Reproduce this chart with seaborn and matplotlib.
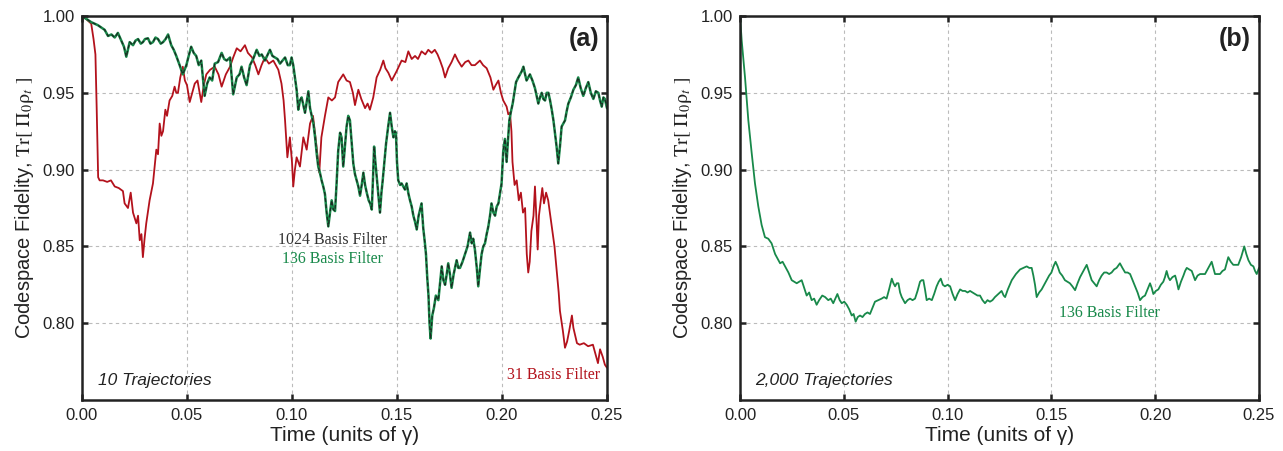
import numpy as np
import pandas as pd
import matplotlib
matplotlib.use("Agg")
import matplotlib.pyplot as plt
import seaborn as sns

# ---------------- data ----------------
red_t = [0.000, 0.002, 0.0044, 0.0055, 0.0064, 0.0070, 0.0077, 0.0084, 0.0100, 0.0120,
         0.0138, 0.0156, 0.0175, 0.0195, 0.0203, 0.0219, 0.0232, 0.0243, 0.0259, 0.0267,
         0.0275, 0.0283, 0.0290, 0.0298, 0.0306, 0.0322, 0.0338, 0.0354, 0.0362, 0.0370,
         0.0378, 0.0386, 0.0397, 0.0405, 0.0417, 0.0430, 0.0441, 0.0449, 0.0457, 0.0468,
         0.0480, 0.0490, 0.0500, 0.0513, 0.0525, 0.0537, 0.0550, 0.0560, 0.0568, 0.0580,
         0.0592, 0.0610, 0.0632, 0.0650, 0.0665, 0.0685, 0.0705, 0.0720, 0.0737, 0.0755,
         0.0776, 0.0790, 0.0810, 0.0825, 0.0840, 0.0855, 0.0871, 0.0890, 0.0911, 0.0935,
         0.0950, 0.0960, 0.0967, 0.0978, 0.0990, 0.1000, 0.1006, 0.1014, 0.1022, 0.1038,
         0.1054, 0.1070, 0.1086, 0.1100, 0.1117, 0.1130, 0.1140, 0.1157, 0.1173, 0.1190,
         0.1205, 0.1220, 0.1244, 0.1260, 0.1276, 0.1290, 0.1300, 0.1316, 0.1330, 0.1348,
         0.1360, 0.1371, 0.1387, 0.1403, 0.1420, 0.1435, 0.1445, 0.1459, 0.1475, 0.1498,
         0.1522, 0.1540, 0.1554, 0.1570, 0.1586, 0.1600, 0.1617, 0.1635, 0.1649, 0.1665,
         0.1680, 0.1693, 0.1705, 0.1718, 0.1729, 0.1744, 0.1760, 0.1776, 0.1790, 0.1808,
         0.1825, 0.1840, 0.1855, 0.1871, 0.1895, 0.1910, 0.1927, 0.1945, 0.1959, 0.1970,
         0.1983, 0.1995, 0.2006, 0.2022, 0.2030, 0.2038, 0.2045, 0.2050, 0.2060, 0.2070,
         0.2080, 0.2090, 0.2100, 0.2110, 0.2118, 0.2125, 0.2132, 0.2140, 0.2150, 0.2157,
         0.2165, 0.2170, 0.2176, 0.2185, 0.2192, 0.2200, 0.2210, 0.2220, 0.2230, 0.2240,
         0.2250, 0.2260, 0.2270, 0.2276, 0.2290, 0.2300, 0.2310, 0.2320, 0.2333, 0.2340,
         0.2357, 0.2370, 0.2390, 0.2410, 0.2433, 0.2445, 0.2457, 0.2467, 0.2480, 0.2490,
         0.2500]
red_v = [1.000, 0.998, 0.995, 0.985, 0.975, 0.940, 0.895, 0.893, 0.893, 0.892,
         0.893, 0.889, 0.888, 0.886, 0.878, 0.875, 0.885, 0.872, 0.865, 0.870,
         0.854, 0.858, 0.843, 0.855, 0.865, 0.880, 0.891, 0.913, 0.910, 0.930,
         0.922, 0.925, 0.939, 0.935, 0.945, 0.948, 0.954, 0.950, 0.950, 0.960,
         0.967, 0.958, 0.955, 0.944, 0.950, 0.956, 0.958, 0.950, 0.944, 0.955,
         0.962, 0.965, 0.967, 0.962, 0.954, 0.962, 0.967, 0.973, 0.979, 0.977,
         0.981, 0.976, 0.973, 0.968, 0.962, 0.968, 0.973, 0.969, 0.971, 0.965,
         0.956, 0.945, 0.932, 0.908, 0.921, 0.905, 0.889, 0.900, 0.908, 0.902,
         0.921, 0.913, 0.930, 0.935, 0.915, 0.898, 0.921, 0.935, 0.947, 0.945,
         0.947, 0.957, 0.962, 0.958, 0.957, 0.950, 0.942, 0.952, 0.946, 0.940,
         0.943, 0.939, 0.947, 0.960, 0.965, 0.971, 0.966, 0.963, 0.958, 0.964,
         0.971, 0.970, 0.977, 0.972, 0.974, 0.972, 0.977, 0.975, 0.978, 0.976,
         0.978, 0.975, 0.971, 0.966, 0.960, 0.966, 0.970, 0.975, 0.971, 0.967,
         0.970, 0.971, 0.968, 0.968, 0.971, 0.968, 0.966, 0.960, 0.952, 0.955,
         0.958, 0.950, 0.945, 0.941, 0.936, 0.937, 0.925, 0.905, 0.890, 0.893,
         0.880, 0.885, 0.872, 0.875, 0.845, 0.833, 0.840, 0.860, 0.870, 0.889,
         0.865, 0.848, 0.870, 0.880, 0.888, 0.878, 0.885, 0.880, 0.870, 0.860,
         0.850, 0.835, 0.820, 0.808, 0.795, 0.784, 0.788, 0.795, 0.805, 0.797,
         0.787, 0.786, 0.787, 0.785, 0.786, 0.780, 0.774, 0.783, 0.778, 0.773,
         0.771]

green_t = [0.0000, 0.0044, 0.0076, 0.0108, 0.0124, 0.0140, 0.0156, 0.0171, 0.0187, 0.0200,
           0.0211, 0.0227, 0.0243, 0.0255, 0.0267, 0.0280, 0.0290, 0.0300, 0.0314, 0.0326,
           0.0338, 0.0350, 0.0362, 0.0375, 0.0386, 0.0398, 0.0410, 0.0425, 0.0437, 0.0449,
           0.0465, 0.0480, 0.0497, 0.0510, 0.0520, 0.0532, 0.0544, 0.0556, 0.0568, 0.0584,
           0.0596, 0.0608, 0.0620, 0.0632, 0.0648, 0.0665, 0.0677, 0.0689, 0.0705, 0.0712,
           0.0720, 0.0737, 0.0750, 0.0760, 0.0772, 0.0784, 0.0800, 0.0815, 0.0832, 0.0845,
           0.0856, 0.0871, 0.0885, 0.0895, 0.0907, 0.0919, 0.0931, 0.0943, 0.0955, 0.0967,
           0.0980, 0.0990, 0.0998, 0.1006, 0.1014, 0.1022, 0.1030, 0.1038, 0.1046, 0.1054,
           0.1062, 0.1070, 0.1078, 0.1086, 0.1094, 0.1102, 0.1110, 0.1118, 0.1125, 0.1133,
           0.1141, 0.1149, 0.1157, 0.1165, 0.1173, 0.1181, 0.1189, 0.1197, 0.1205, 0.1212,
           0.1220, 0.1229, 0.1236, 0.1244, 0.1252, 0.1260, 0.1268, 0.1276, 0.1284, 0.1292,
           0.1300, 0.1308, 0.1316, 0.1324, 0.1332, 0.1340, 0.1348, 0.1356, 0.1365, 0.1372,
           0.1380, 0.1386, 0.1391, 0.1397, 0.1403, 0.1411, 0.1419, 0.1426, 0.1432, 0.1440,
           0.1448, 0.1458, 0.1467, 0.1475, 0.1483, 0.1490, 0.1495, 0.1500, 0.1506, 0.1515,
           0.1522, 0.1530, 0.1538, 0.1546, 0.1555, 0.1562, 0.1570, 0.1578, 0.1586, 0.1594,
           0.1603, 0.1610, 0.1617, 0.1625, 0.1633, 0.1638, 0.1644, 0.1650, 0.1655, 0.1660,
           0.1668, 0.1676, 0.1685, 0.1697, 0.1705, 0.1713, 0.1721, 0.1729, 0.1737, 0.1744,
           0.1752, 0.1760, 0.1770, 0.1784, 0.1792, 0.1800, 0.1812, 0.1824, 0.1836, 0.1848,
           0.1856, 0.1863, 0.1871, 0.1880, 0.1887, 0.1895, 0.1903, 0.1911, 0.1919, 0.1927,
           0.1935, 0.1943, 0.1950, 0.1959, 0.1967, 0.1975, 0.1983, 0.1991, 0.1998, 0.2006,
           0.2014, 0.2022, 0.2028, 0.2035, 0.2043, 0.2051, 0.2059, 0.2067, 0.2078, 0.2086,
           0.2094, 0.2102, 0.2110, 0.2117, 0.2125, 0.2133, 0.2145, 0.2157, 0.2165, 0.2173,
           0.2181, 0.2189, 0.2197, 0.2205, 0.2213, 0.2221, 0.2229, 0.2237, 0.2245, 0.2252,
           0.2260, 0.2268, 0.2276, 0.2284, 0.2292, 0.2300, 0.2308, 0.2316, 0.2328, 0.2340,
           0.2352, 0.2363, 0.2375, 0.2387, 0.2399, 0.2411, 0.2423, 0.2435, 0.2447, 0.2459,
           0.2467, 0.2475, 0.2483, 0.2490, 0.2500]
green_v = [1.000, 0.996, 0.994, 0.991, 0.987, 0.988, 0.986, 0.989, 0.984, 0.980,
           0.9735, 0.983, 0.981, 0.984, 0.985, 0.982, 0.983, 0.985, 0.9855, 0.982,
           0.983, 0.986, 0.985, 0.982, 0.983, 0.985, 0.988, 0.981, 0.978, 0.974,
           0.968, 0.962, 0.968, 0.975, 0.980, 0.976, 0.974, 0.968, 0.971, 0.948,
           0.956, 0.960, 0.958, 0.969, 0.970, 0.976, 0.972, 0.971, 0.973, 0.962,
           0.949, 0.960, 0.962, 0.967, 0.960, 0.955, 0.968, 0.972, 0.978, 0.974,
           0.975, 0.971, 0.975, 0.978, 0.974, 0.973, 0.972, 0.969, 0.971, 0.973,
           0.968, 0.968, 0.973, 0.968, 0.960, 0.952, 0.939, 0.945, 0.947, 0.942,
           0.937, 0.944, 0.951, 0.940, 0.935, 0.930, 0.921, 0.910, 0.902, 0.898,
           0.893, 0.889, 0.884, 0.872, 0.863, 0.872, 0.880, 0.874, 0.873, 0.890,
           0.912, 0.924, 0.921, 0.902, 0.915, 0.928, 0.935, 0.932, 0.918, 0.904,
           0.897, 0.893, 0.889, 0.883, 0.890, 0.898, 0.890, 0.885, 0.880, 0.878,
           0.874, 0.895, 0.915, 0.905, 0.896, 0.884, 0.872, 0.885, 0.893, 0.905,
           0.917, 0.928, 0.937, 0.928, 0.921, 0.925, 0.924, 0.905, 0.893, 0.890,
           0.891, 0.889, 0.887, 0.891, 0.884, 0.880, 0.876, 0.870, 0.866, 0.861,
           0.870, 0.874, 0.878, 0.862, 0.852, 0.845, 0.830, 0.818, 0.800, 0.790,
           0.805, 0.810, 0.818, 0.815, 0.826, 0.837, 0.828, 0.825, 0.832, 0.839,
           0.832, 0.823, 0.832, 0.841, 0.836, 0.836, 0.840, 0.845, 0.850, 0.859,
           0.852, 0.855, 0.848, 0.836, 0.824, 0.835, 0.845, 0.850, 0.852, 0.858,
           0.863, 0.870, 0.878, 0.872, 0.870, 0.876, 0.878, 0.885, 0.891, 0.912,
           0.920, 0.905, 0.918, 0.932, 0.938, 0.943, 0.950, 0.957, 0.960, 0.962,
           0.964, 0.967, 0.962, 0.958, 0.960, 0.962, 0.958, 0.953, 0.948, 0.943,
           0.947, 0.950, 0.946, 0.945, 0.950, 0.950, 0.945, 0.939, 0.932, 0.924,
           0.915, 0.904, 0.915, 0.928, 0.930, 0.932, 0.938, 0.943, 0.947, 0.952,
           0.955, 0.960, 0.953, 0.948, 0.953, 0.957, 0.950, 0.946, 0.951, 0.950,
           0.945, 0.941, 0.947, 0.946, 0.940]

avg_t = [0.0000, 0.0008, 0.0024, 0.0040, 0.0056, 0.0072, 0.0088, 0.0104, 0.0120, 0.0136,
         0.0152, 0.0169, 0.0181, 0.0193, 0.0205, 0.0217, 0.0233, 0.0249, 0.0261, 0.0273,
         0.0285, 0.0297, 0.0309, 0.0321, 0.0333, 0.0345, 0.0357, 0.0369, 0.0381, 0.0396,
         0.0410, 0.0425, 0.0437, 0.0449, 0.0459, 0.0469, 0.0480, 0.0490, 0.0502, 0.0514,
         0.0526, 0.0538, 0.0547, 0.0557, 0.0567, 0.0578, 0.0590, 0.0602, 0.0614, 0.0626,
         0.0638, 0.0650, 0.0666, 0.0682, 0.0694, 0.0706, 0.0718, 0.0731, 0.0739, 0.0747,
         0.0755, 0.0763, 0.0771, 0.0779, 0.0787, 0.0795, 0.0807, 0.0819, 0.0831, 0.0843,
         0.0855, 0.0867, 0.0875, 0.0883, 0.0891, 0.0899, 0.0911, 0.0924, 0.0935, 0.0947,
         0.0957, 0.0967, 0.0977, 0.0987, 0.1000, 0.1012, 0.1024, 0.1036, 0.1048, 0.1060,
         0.1072, 0.1084, 0.1096, 0.1108, 0.1120, 0.1132, 0.1144, 0.1156, 0.1168, 0.1180,
         0.1192, 0.1204, 0.1216, 0.1228, 0.1244, 0.1260, 0.1270, 0.1277, 0.1290, 0.1309,
         0.1329, 0.1349, 0.1365, 0.1381, 0.1393, 0.1405, 0.1413, 0.1421, 0.1429, 0.1441,
         0.1453, 0.1465, 0.1477, 0.1489, 0.1500, 0.1510, 0.1520, 0.1530, 0.1540, 0.1552,
         0.1565, 0.1577, 0.1589, 0.1601, 0.1614, 0.1626, 0.1638, 0.1654, 0.1670, 0.1682,
         0.1694, 0.1706, 0.1718, 0.1730, 0.1742, 0.1754, 0.1766, 0.1778, 0.1790, 0.1802,
         0.1814, 0.1830, 0.1842, 0.1855, 0.1867, 0.1879, 0.1891, 0.1903, 0.1915, 0.1927,
         0.1939, 0.1951, 0.1963, 0.1975, 0.1983, 0.1991, 0.2003, 0.2015, 0.2027, 0.2039,
         0.2047, 0.2055, 0.2063, 0.2071, 0.2083, 0.2096, 0.2104, 0.2112, 0.2124, 0.2136,
         0.2144, 0.2152, 0.2164, 0.2176, 0.2184, 0.2192, 0.2204, 0.2216, 0.2228, 0.2240,
         0.2256, 0.2272, 0.2280, 0.2288, 0.2300, 0.2312, 0.2324, 0.2336, 0.2344, 0.2352,
         0.2364, 0.2376, 0.2388, 0.2400, 0.2414, 0.2429, 0.2439, 0.2449, 0.2461, 0.2473,
         0.2481, 0.2489, 0.2500]
avg_v = [1.000, 0.984, 0.960, 0.932, 0.911, 0.891, 0.876, 0.864, 0.856, 0.855,
         0.852, 0.845, 0.842, 0.839, 0.840, 0.837, 0.833, 0.828, 0.827, 0.826,
         0.827, 0.828, 0.823, 0.818, 0.820, 0.815, 0.816, 0.812, 0.815, 0.818,
         0.817, 0.815, 0.816, 0.813, 0.816, 0.819, 0.815, 0.813, 0.814, 0.812,
         0.809, 0.805, 0.806, 0.801, 0.804, 0.805, 0.804, 0.806, 0.807, 0.806,
         0.810, 0.814, 0.815, 0.816, 0.817, 0.816, 0.822, 0.829, 0.826, 0.824,
         0.826, 0.826, 0.820, 0.817, 0.815, 0.813, 0.815, 0.816, 0.815, 0.816,
         0.821, 0.827, 0.828, 0.828, 0.822, 0.815, 0.816, 0.815, 0.819, 0.824,
         0.827, 0.829, 0.825, 0.824, 0.825, 0.824, 0.819, 0.815, 0.819, 0.822,
         0.821, 0.821, 0.820, 0.821, 0.820, 0.819, 0.818, 0.818, 0.815, 0.813,
         0.815, 0.814, 0.815, 0.817, 0.819, 0.821, 0.818, 0.817, 0.822, 0.828,
         0.832, 0.835, 0.836, 0.837, 0.836, 0.836, 0.831, 0.825, 0.817, 0.820,
         0.822, 0.825, 0.828, 0.831, 0.833, 0.837, 0.840, 0.837, 0.833, 0.831,
         0.828, 0.827, 0.826, 0.824, 0.8215, 0.826, 0.830, 0.834, 0.838, 0.833,
         0.828, 0.826, 0.824, 0.828, 0.831, 0.833, 0.833, 0.832, 0.833, 0.835,
         0.836, 0.839, 0.836, 0.833, 0.833, 0.832, 0.828, 0.824, 0.820, 0.815,
         0.817, 0.818, 0.822, 0.826, 0.823, 0.819, 0.821, 0.822, 0.825, 0.827,
         0.830, 0.834, 0.830, 0.828, 0.830, 0.831, 0.827, 0.822, 0.827, 0.831,
         0.834, 0.836, 0.835, 0.834, 0.831, 0.828, 0.831, 0.832, 0.832, 0.832,
         0.836, 0.840, 0.836, 0.832, 0.832, 0.832, 0.834, 0.835, 0.839, 0.843,
         0.840, 0.838, 0.838, 0.838, 0.843, 0.850, 0.845, 0.841, 0.838, 0.837,
         0.834, 0.832, 0.836]

x_ticks = [0.00, 0.05, 0.10, 0.15, 0.20, 0.25]
y_ticks = [0.80, 0.85, 0.90, 0.95, 1.00]

RED = "#b3121c"
GREEN = "#18894a"
DARK = "#1c2a22"
INK = "#222222"

# ---------------- style ----------------
sns.set_style("ticks")
plt.rcParams["font.family"] = ["Liberation Sans", "DejaVu Sans"]
plt.rcParams["mathtext.fontset"] = "stix"

fig = plt.figure(figsize=(12.83, 4.51), dpi=100)
axA = fig.add_axes([0.0639, 0.1131, 0.4092, 0.8514])
axB = fig.add_axes([0.5768, 0.1131, 0.4045, 0.8514])

dfA_red = pd.DataFrame({"t": red_t, "v": red_v})
dfA_grn = pd.DataFrame({"t": green_t, "v": green_v})
dfB = pd.DataFrame({"t": avg_t, "v": avg_v})

sns.lineplot(data=dfA_red, x="t", y="v", ax=axA, color=RED, linewidth=1.3,
             estimator=None, sort=False)
sns.lineplot(data=dfA_grn, x="t", y="v", ax=axA, color=GREEN, linewidth=1.8,
             estimator=None, sort=False)
sns.lineplot(data=dfA_grn, x="t", y="v", ax=axA, color=DARK, linewidth=0.9,
             estimator=None, sort=False, linestyle=(0, (3, 2)))
sns.lineplot(data=dfB, x="t", y="v", ax=axB, color=GREEN, linewidth=1.3,
             estimator=None, sort=False)

ylabel = r"Codespace Fidelity, $\mathrm{Tr[\ \Pi_0\rho}_t\mathrm{\ ]}$"
for ax in (axA, axB):
    ax.set_xlim(0, 0.25)
    ax.set_ylim(0.75, 1.0)
    ax.set_xticks(x_ticks)
    ax.set_yticks(y_ticks)
    ax.set_xticklabels([f"{v:.2f}" for v in x_ticks])
    ax.set_yticklabels([f"{v:.2f}" for v in y_ticks])
    ax.grid(True, color="#bbbbbb", linestyle=(0, (3, 3)), linewidth=0.8)
    ax.set_axisbelow(True)
    for s in ax.spines.values():
        s.set_visible(True)
        s.set_linewidth(1.8)
        s.set_color(INK)
    ax.tick_params(direction="in", length=4, width=1.8, top=True, right=True,
                   labelsize=12, colors=INK, pad=5)
    ax.tick_params(axis="x", pad=6)
    ax.set_xlabel("Time (units of γ)", fontsize=15, color=INK, labelpad=2)
    ax.set_ylabel(ylabel, fontsize=14.5, color=INK, labelpad=5)

axA.text(0.985, 0.94, "(a)", transform=axA.transAxes, ha="right", va="center",
         fontsize=18, fontweight="bold", color=INK)
axB.text(0.985, 0.94, "(b)", transform=axB.transAxes, ha="right", va="center",
         fontsize=18, fontweight="bold", color=INK)
axA.text(0.03, 0.05, "10 Trajectories", transform=axA.transAxes, ha="left",
         va="center", fontsize=12.5, style="italic", color=INK)
axB.text(0.03, 0.05, "2,000 Trajectories", transform=axB.transAxes, ha="left",
         va="center", fontsize=12.5, style="italic", color=INK)

serif = ["Liberation Serif", "DejaVu Serif"]
axA.text(0.1195, 0.854, "1024 Basis Filter", ha="center", va="center",
         fontsize=11.5, family=serif, color="#333333")
axA.text(0.1195, 0.842, "136 Basis Filter", ha="center", va="center",
         fontsize=11.5, family=serif, color=GREEN)
axA.text(0.2465, 0.766, "31 Basis Filter", ha="right", va="center",
         fontsize=11.5, family=serif, color=RED)
axB.text(0.178, 0.8065, "136 Basis Filter", ha="center", va="center",
         fontsize=11.5, family=serif, color=GREEN)

fig.savefig("out.png", dpi=100)
